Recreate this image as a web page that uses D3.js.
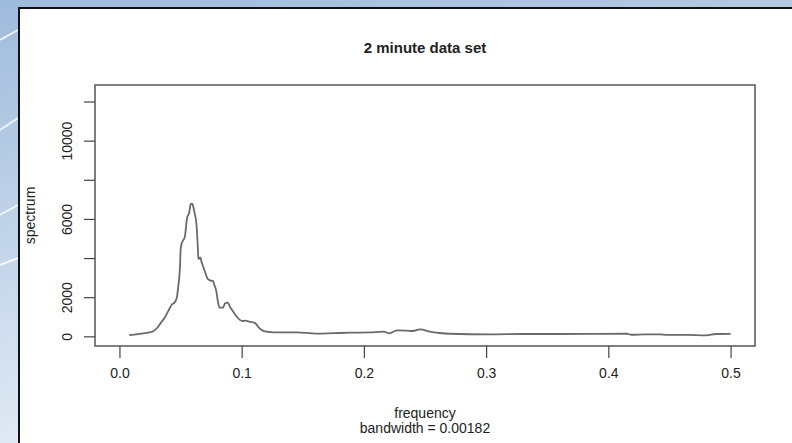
<!DOCTYPE html>
<html>
<head>
<meta charset="utf-8">
<title>2 minute data set</title>
<script src="https://cdn.jsdelivr.net/npm/d3@7"></script>
<style>
	body { margin: 0; background: #fff; }
	text { font-family: "Liberation Sans", Arial, sans-serif; fill: #222; }
</style>
</head>
<body>
<svg width="792" height="443"></svg>
<script>
	// spectrum values
	var freq = [0.008, 0.015, 0.022, 0.027, 0.031, 0.034, 0.037, 0.040, 0.043, 0.045,
		0.047, 0.048, 0.0495, 0.0502, 0.052, 0.0534, 0.0554, 0.057, 0.0583, 0.0595,
		0.0602, 0.0615, 0.063, 0.064, 0.0646, 0.0662, 0.0672, 0.0683, 0.070, 0.0724,
		0.0745, 0.0764, 0.0778, 0.0792, 0.0805, 0.0818, 0.0846, 0.0866, 0.0886, 0.0905,
		0.0927, 0.096, 0.1008, 0.103, 0.106, 0.109, 0.1116, 0.114, 0.1183, 0.123,
		0.13, 0.145, 0.161, 0.175, 0.189, 0.205, 0.216, 0.221, 0.227, 0.235,
		0.240, 0.246, 0.254, 0.262, 0.270, 0.303, 0.33, 0.36, 0.39, 0.415,
		0.419, 0.43, 0.442, 0.448, 0.465, 0.48, 0.488, 0.5];
	var spec = [60, 110, 180, 240, 440, 700, 950, 1300, 1640, 1720,
		2000, 2490, 3500, 4540, 4900, 5050, 6076, 6300, 6760, 6780,
		6675, 6300, 5740, 4700, 3945, 4030, 3800, 3600, 3300, 2920,
		2850, 2830, 2600, 2320, 1800, 1465, 1465, 1700, 1720, 1500,
		1300, 1000, 784, 800, 750, 720, 645, 450, 270, 220,
		200, 205, 140, 160, 185, 200, 236, 154, 307, 290,
		272, 358, 236, 170, 133, 102, 120, 120, 125, 133,
		80, 100, 102, 75, 70, 50, 120, 130];

	var xTicks = [0, 0.1, 0.2, 0.3, 0.4, 0.5];
	var yTicks = [0, 2000, 4000, 6000, 8000, 10000, 12000];
	var yLabelled = [0, 2000, 6000, 10000];

	var svg = d3.select("svg");

	// slide background behind the chart panel
	var defs = svg.append("defs");
	var grad = defs.append("linearGradient")
		.attr("id", "bg")
		.attr("x1", 0).attr("y1", 0).attr("x2", 0.3).attr("y2", 1);
	grad.append("stop").attr("offset", 0).attr("stop-color", "#9fbbdc");
	grad.append("stop").attr("offset", 1).attr("stop-color", "#e6edf6");

	svg.append("rect")
		.attr("width", 792).attr("height", 443)
		.attr("fill", "url(#bg)");

	[[0, 40, 18, 30], [0, 130, 18, 118], [0, 215, 18, 205], [0, 265, 18, 258]].forEach(function(s) {
		svg.append("line")
			.attr("x1", s[0]).attr("y1", s[1]).attr("x2", s[2]).attr("y2", s[3])
			.attr("stroke", "#fff").attr("stroke-opacity", 0.8).attr("stroke-width", 2);
	});

	svg.append("rect")
		.attr("x", 18).attr("y", 7)
		.attr("width", 792 - 18).attr("height", 443 - 7)
		.attr("fill", "#fff");
	svg.append("path")
		.attr("d", "M19,443V8H792")
		.attr("fill", "none")
		.attr("stroke", "#111")
		.attr("stroke-width", 2);

	var x = d3.scaleLinear().domain([-0.02, 0.52]).range([95, 755]);
	var y = d3.scaleLinear().domain([-494, 12844]).range([346, 85]);

	// plot box
	svg.append("rect")
		.attr("x", 95).attr("y", 85)
		.attr("width", 660).attr("height", 261)
		.attr("fill", "none")
		.attr("stroke", "#555")
		.attr("stroke-width", 1.5);

	var xAxis = svg.append("g")
		.attr("transform", "translate(0,346)")
		.call(d3.axisBottom(x).tickValues(xTicks).tickSize(12).tickPadding(10)
			.tickFormat(d3.format(".1f")));
	xAxis.select(".domain").remove();
	xAxis.selectAll("line").attr("stroke", "#444").attr("stroke-width", 1.2);
	xAxis.selectAll("text")
		.style("font-size", "14px")
		.style("font-family", "Liberation Sans, Arial, sans-serif")
		.attr("fill", "#333");

	var yAxis = svg.append("g")
		.attr("transform", "translate(95,0)")
		.call(d3.axisLeft(y).tickValues(yTicks).tickSize(11)
			.tickFormat(function(d) { return yLabelled.indexOf(d) >= 0 ? d : ""; }));
	yAxis.select(".domain").remove();
	yAxis.selectAll("line").attr("stroke", "#444").attr("stroke-width", 1.2);
	yAxis.selectAll("text")
		.attr("x", null).attr("dy", null)
		.attr("transform", "translate(-28,0) rotate(-90)")
		.attr("text-anchor", "middle")
		.attr("dominant-baseline", "central")
		.style("font-size", "14px")
		.style("font-family", "Liberation Sans, Arial, sans-serif")
		.attr("fill", "#333");

	var line = d3.line()
		.x(function(d, i) { return x(freq[i]); })
		.y(function(d) { return y(d); })
		.curve(d3.curveMonotoneX);

	svg.append("path")
		.datum(spec)
		.attr("d", line)
		.attr("fill", "none")
		.attr("stroke", "#6a6a6a")
		.attr("stroke-width", 1.8)
		.attr("stroke-linejoin", "round");

	svg.append("text")
		.attr("x", 425).attr("y", 53)
		.attr("text-anchor", "middle")
		.style("font-size", "15px")
		.style("font-weight", "bold")
		.text("2 minute data set");

	svg.append("text")
		.attr("transform", "translate(35,215.5) rotate(-90)")
		.attr("text-anchor", "middle")
		.style("font-size", "14px")
		.attr("fill", "#333")
		.text("spectrum");

	svg.append("text")
		.attr("x", 425).attr("y", 418)
		.attr("text-anchor", "middle")
		.style("font-size", "14px")
		.attr("fill", "#333")
		.text("frequency");

	svg.append("text")
		.attr("x", 425).attr("y", 433)
		.attr("text-anchor", "middle")
		.style("font-size", "14px")
		.attr("fill", "#333")
		.text("bandwidth = 0.00182");
</script>
</body>
</html>
